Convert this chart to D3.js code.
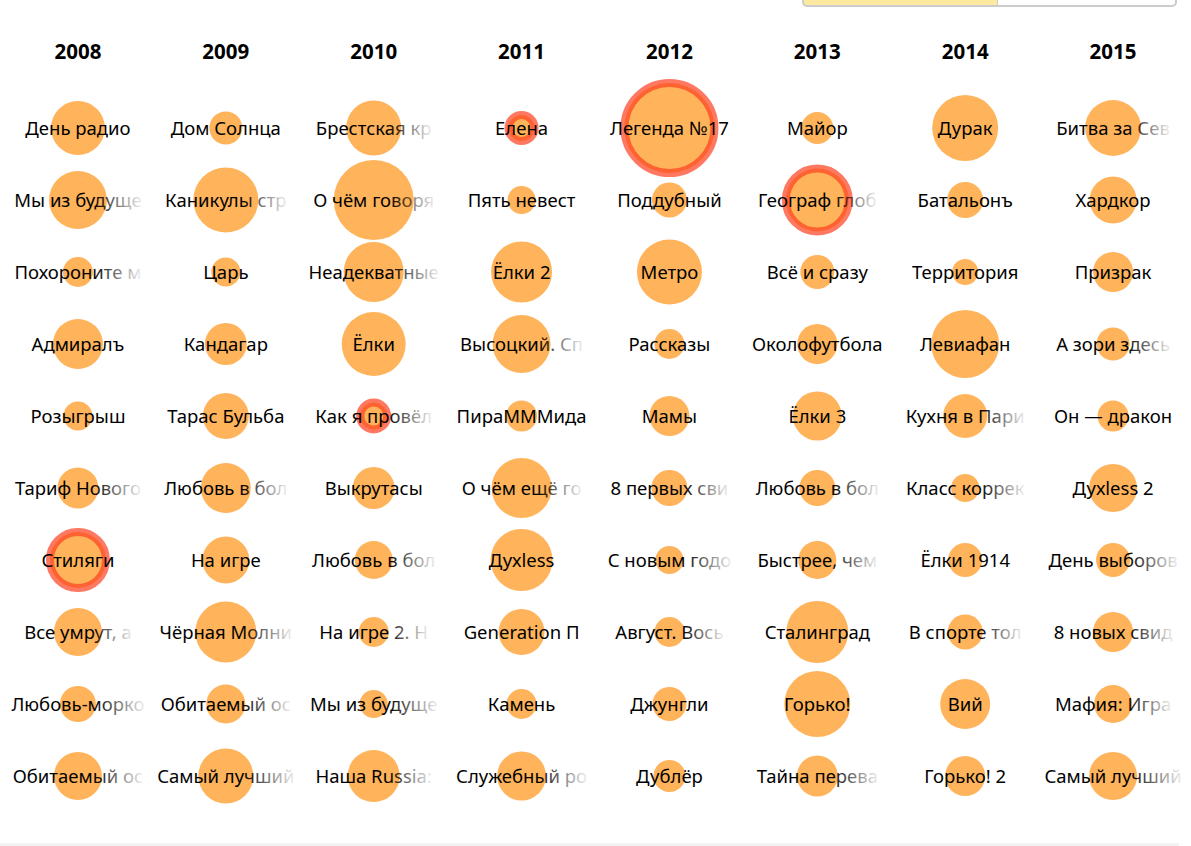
<!DOCTYPE html>
<html><head><meta charset="utf-8">
<script src="https://cdn.jsdelivr.net/npm/d3@7"></script>
<style>
html,body{margin:0;padding:0;background:#fff;}
svg{display:block;}
</style></head>
<body>
<svg id="chart" width="1191" height="846"></svg>
<script>
// ---- data ----
const years = ["2008","2009","2010","2011","2012","2013","2014","2015"];
const titles2008 = ["День радио","Мы из будущего","Похороните меня за плинтусом","Адмиралъ","Розыгрыш","Тариф Новогодний","Стиляги","Все умрут, а я останусь","Любовь-морковь 2","Обитаемый остров"];
const titles2009 = ["Дом Солнца","Каникулы строгого режима","Царь","Кандагар","Тарас Бульба","Любовь в большом городе","На игре","Чёрная Молния","Обитаемый остров. Схватка","Самый лучший фильм 2"];
const titles2010 = ["Брестская крепость","О чём говорят мужчины","Неадекватные люди","Ёлки","Как я провёл этим летом","Выкрутасы","Любовь в большом городе 2","На игре 2. Новый уровень","Мы из будущего 2","Наша Russia: Яйца судьбы"];
const titles2011 = ["Елена","Пять невест","Ёлки 2","Высоцкий. Спасибо, что живой","ПираМММида","О чём ещё говорят мужчины","Духless","Generation П","Камень","Служебный роман. Наше время"];
const titles2012 = ["Легенда №17","Поддубный","Метро","Рассказы","Мамы","8 первых свиданий","С новым годом, мамы!","Август. Восьмого","Джунгли","Дублёр"];
const titles2013 = ["Майор","Географ глобус пропил","Всё и сразу","Околофутбола","Ёлки 3","Любовь в большом городе 3","Быстрее, чем кролики","Сталинград","Горько!","Тайна перевала Дятлова"];
const titles2014 = ["Дурак","Батальонъ","Территория","Левиафан","Кухня в Париже","Класс коррекции","Ёлки 1914","В спорте только девушки","Вий","Горько! 2"];
const titles2015 = ["Битва за Севастополь","Хардкор","Призрак","А зори здесь тихие...","Он — дракон","Духless 2","День выборов 2","8 новых свиданий","Мафия: Игра на выживание","Самый лучший день"];

const values2008 = [729, 841, 225, 625, 210, 420, 784, 576, 324, 576];
const values2009 = [272, 1056, 210, 441, 529, 625, 552, 930, 380, 756];
const values2010 = [756, 1600, 900, 1024, 182, 441, 361, 225, 196, 676];
const values2011 = [169, 196, 930, 841, 240, 900, 961, 529, 225, 600];
const values2012 = [2025, 306, 1056, 225, 400, 324, 196, 225, 289, 256];
const values2013 = [256, 992, 289, 400, 600, 324, 361, 961, 1089, 420];
const values2014 = [1089, 324, 169, 1156, 484, 196, 289, 306, 625, 400];
const values2015 = [784, 552, 400, 272, 240, 576, 289, 400, 361, 576];

const awarded = ["Стиляги","Как я провёл этим летом","Елена","Легенда №17","Географ глобус пропил"];

const titlesByYear = [titles2008,titles2009,titles2010,titles2011,titles2012,titles2013,titles2014,titles2015];
const valuesByYear = [values2008,values2009,values2010,values2011,values2012,values2013,values2014,values2015];

// ---- build ----
const svg = d3.select("#chart");
const MAXCH = 12;

const x = d3.scaleBand().domain(years).range([4, 1187]).paddingInner(0).paddingOuter(0);
const rowIdx = d3.range(10);
const y = d3.scalePoint().domain(rowIdx).range([128, 776]);
const maxV = d3.max(valuesByYear.flat());
const r = d3.scaleSqrt().domain([0, maxV]).range([0, 45]);

const data = [];
years.forEach((yr, i) => {
  titlesByYear[i].forEach((t, j) => {
    data.push({year: yr, row: j, title: t, value: valuesByYear[i][j], award: awarded.includes(t)});
  });
});

// top toggle box
const tg = svg.append("g");
tg.append("rect").attr("x", 803).attr("y", -10).attr("width", 194).attr("height", 16).attr("fill", "#fee9a0");
tg.append("rect").attr("x", 803).attr("y", -10).attr("width", 373).attr("height", 16)
  .attr("rx", 4).attr("fill", "none").attr("stroke", "#cccccc").attr("stroke-width", 2);
tg.append("line").attr("x1", 997.5).attr("x2", 997.5).attr("y1", -10).attr("y2", 6).attr("stroke", "#cccccc").attr("stroke-width", 1);

// bottom strip
svg.append("rect").attr("x", 0).attr("y", 843).attr("width", 1179).attr("height", 3).attr("fill", "#f2f2f2");

// fade gradient
const defs = svg.append("defs");
const grad = defs.append("linearGradient").attr("id", "fade")
  .attr("x1", "0").attr("x2", "1").attr("y1", "0").attr("y2", "0");
grad.append("stop").attr("offset", "0.62").attr("stop-color", "#000").attr("stop-opacity", 1);
grad.append("stop").attr("offset", "1").attr("stop-color", "#000").attr("stop-opacity", 0.06);

// year headers
svg.append("g").selectAll("text").data(years).join("text")
  .attr("x", d => x(d) + x.bandwidth() / 2)
  .attr("y", 59)
  .attr("text-anchor", "middle")
  .attr("font-family", "'Noto Sans', sans-serif")
  .attr("font-weight", 700)
  .attr("font-size", 20.5)
  .attr("fill", "#000")
  .text(d => d);

// circles
svg.append("g").selectAll("circle").data(data).join("circle")
  .attr("cx", d => x(d.year) + x.bandwidth() / 2)
  .attr("cy", d => y(d.row))
  .attr("r", d => r(d.value))
  .attr("fill", "#ffb35a")
  .attr("stroke", d => d.award ? "#ff4020" : "none")
  .attr("stroke-opacity", 0.7)
  .attr("stroke-width", d => d.award ? 8 : 0);

// labels
svg.append("g").selectAll("text").data(data).join("text")
  .attr("x", d => x(d.year) + x.bandwidth() / 2)
  .attr("y", d => y(d.row))
  .attr("dy", "0.36em")
  .attr("text-anchor", "middle")
  .attr("font-family", "'Noto Sans', sans-serif")
  .attr("font-size", 18.5)
  .attr("fill", d => d.title.length > MAXCH ? "url(#fade)" : "#000")
  .text(d => d.title.length > MAXCH ? d.title.slice(0, MAXCH) : d.title);
</script>
</body></html>
